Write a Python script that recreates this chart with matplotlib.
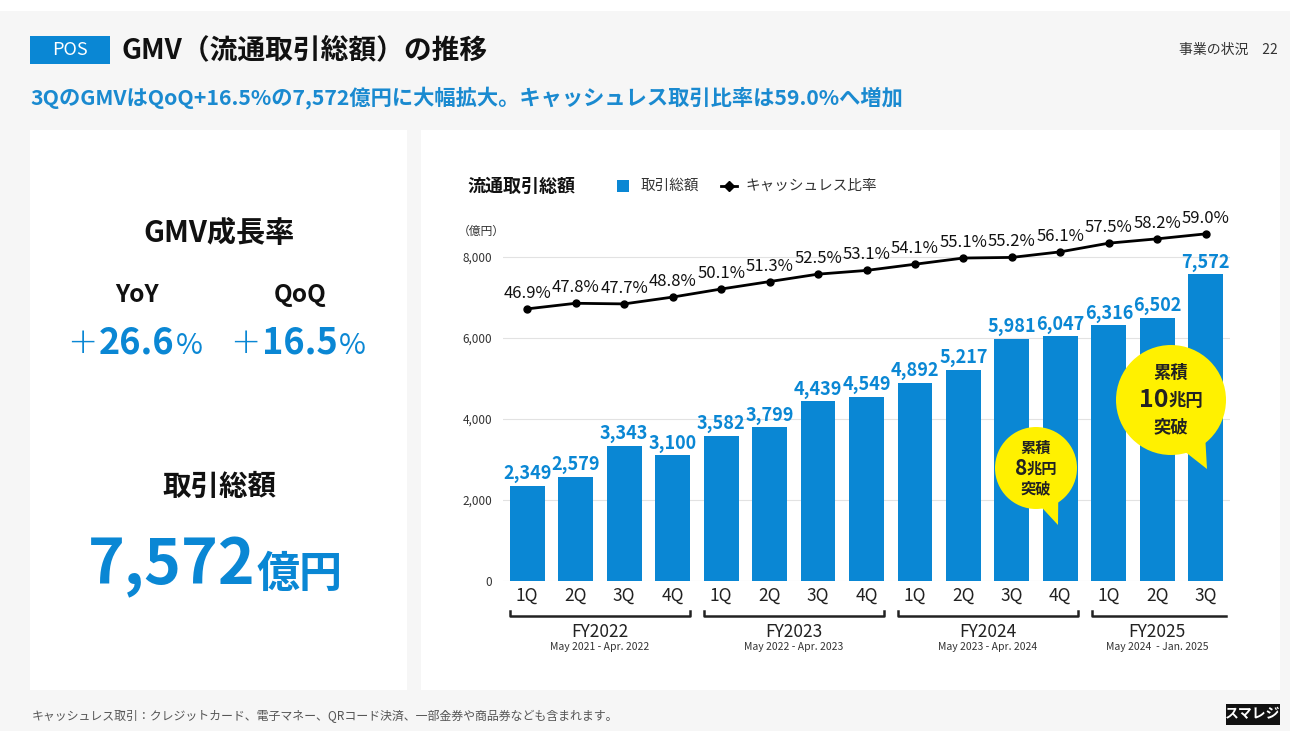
import matplotlib
matplotlib.use("Agg")
import matplotlib.pyplot as plt
from matplotlib.patches import Rectangle, Circle, Polygon
from matplotlib.transforms import Affine2D
import numpy as np

plt.rcParams['font.family'] = ['Noto Sans CJK JP', 'DejaVu Sans']

quarters = ['1Q', '2Q', '3Q', '4Q', '1Q', '2Q', '3Q', '4Q', '1Q', '2Q', '3Q', '4Q', '1Q', '2Q', '3Q']
gmv = [2349, 2579, 3343, 3100, 3582, 3799, 4439, 4549, 4892, 5217, 5981, 6047, 6316, 6502, 7572]
cashless = [46.9, 47.8, 47.7, 48.8, 50.1, 51.3, 52.5, 53.1, 54.1, 55.1, 55.2, 56.1, 57.5, 58.2, 59.0]
fiscal_years = ['FY2022', 'FY2023', 'FY2024', 'FY2025']
fy_periods = ['May 2021 - Apr. 2022', 'May 2022 - Apr. 2023', 'May 2023 - Apr. 2024', 'May 2024  - Jan. 2025']
fy_first_bar = [0, 4, 8, 12]
fy_last_bar = [3, 7, 11, 14]
yoy, qoq = 26.6, 16.5

BLUE = '#0a87d4'
YELLOW = '#fff100'
W, H = 1290, 731

fig = plt.figure(figsize=(W / 100, H / 100), dpi=100)
fig.patch.set_facecolor('#f6f6f6')
# pixel coordinates measured from the top-left corner
px = Affine2D().scale(1 / W, -1 / H).translate(0, 1) + fig.transFigure
renderer = fig.canvas.get_renderer()


def t(x, y, s, **kw):
    return fig.text(x / W, 1 - y / H, s, **kw)


def width_px(txt):
    return txt.get_window_extent(renderer).width


def rect(x, y, w, h, color, z=-1):
    fig.patches.append(Rectangle((x, y), w, h, transform=px, fc=color, ec='none', zorder=z))


# page frame
rect(0, 0, W, 11, 'white')
rect(30, 130, 377, 560, 'white')
rect(421, 130, 859, 560, 'white')

# header
rect(30, 36, 80, 28, BLUE, z=1)
t(70, 50, 'POS', color='white', fontsize=13, ha='center', va='center')
t(121, 50, 'GMV（流通取引総額）の推移', fontsize=20, fontweight='bold', va='center', color='#111111')
t(1278, 50, '事業の状況　22', fontsize=10, ha='right', va='center', color='#333333')
t(30, 98, f'3QのGMVはQoQ+{qoq}%の{gmv[-1]:,}億円に大幅拡大。キャッシュレス取引比率は{cashless[-1]}%へ増加',
  fontsize=15.3, fontweight='bold', va='center', color='#1a8ad0')

# left panel: growth rates and total
t(219, 233, 'GMV成長率', fontsize=21, fontweight='bold', ha='center', va='center', color='#111111')
t(137, 295, 'YoY', fontsize=17.5, fontweight='bold', ha='center', va='center', color='#111111')
t(300, 295, 'QoQ', fontsize=17.5, fontweight='bold', ha='center', va='center', color='#111111')

for cx, v in [(137, yoy), (300, qoq)]:
    num = t(cx, 343, f'{v}', fontsize=26, fontweight='bold', ha='center', va='center', color=BLUE)
    bb = num.get_window_extent(renderer)
    fig.text((bb.x0 - 2) / fig.bbox.width, 1 - 343 / H, '+', fontsize=26, fontweight='light',
             ha='right', va='center', color=BLUE, family=['DejaVu Sans'])
    fig.text((bb.x1 + 1) / fig.bbox.width, 1 - 346 / H, '%', fontsize=21, fontweight='normal',
             ha='left', va='center', color=BLUE)

t(219, 487, '取引総額', fontsize=20.5, fontweight='bold', ha='center', va='center', color='#111111')
t(256, 567, f'{gmv[-1]:,}', fontsize=45, fontweight='bold', ha='right', va='center', color=BLUE)
t(257, 574, '億円', fontsize=31, fontweight='bold', ha='left', va='center', color=BLUE)

# chart header and legend
t(467, 186, '流通取引総額', fontsize=13, fontweight='bold', va='center', color='#111111')
rect(617, 180, 12, 12, BLUE, z=1)
t(641, 186, '取引総額', fontsize=10.5, va='center', color='#333333')
fig.lines.append(plt.Line2D([721, 729, 737], [186, 186, 186], transform=px, color='black', lw=2,
                            marker='D', markersize=5, markevery=[1]))
t(745, 186, 'キャッシュレス比率', fontsize=10.5, va='center', color='#333333')
t(458, 231, '（億円）', fontsize=8.5, va='center', color='#333333')

# bar chart
ax = fig.add_axes([503 / W, 1 - 581 / H, 727 / W, 364.5 / H])
x = np.arange(len(gmv))
ax.bar(x, gmv, width=0.72, color=BLUE, zorder=2)
for xi, v in zip(x, gmv):
    ax.text(xi, v + 60, f'{v:,}', ha='center', va='bottom', fontsize=13,
            fontweight='bold', color=BLUE, zorder=4)
ax.set_xlim(-0.5, len(gmv) - 0.5)
ax.set_ylim(0, 9000)
ax.set_yticks([0, 2000, 4000, 6000, 8000])
ax.set_yticklabels([f'{v:,}' for v in [0, 2000, 4000, 6000, 8000]], fontsize=8.5, color='#333333')
ax.grid(axis='y', color='#e2e2e2', lw=0.8, zorder=0)
ax.set_xticks(x)
ax.set_xticklabels(quarters, fontsize=12.5, color='#222222')
ax.tick_params(length=0, pad=4)
ax.tick_params(axis='y', pad=8)
for s in ax.spines.values():
    s.set_visible(False)
ax.patch.set_alpha(0)

# cashless ratio line on a secondary scale
ax2 = ax.twinx()
ax2.set_ylim(3.0, 61.8)
ax2.plot(x, cashless, color='black', lw=2, marker='o', markersize=5, zorder=5)
for xi, v in zip(x, cashless):
    ax2.annotate(f'{v}%', (xi, v), xytext=(0, 5), textcoords='offset points',
                 ha='center', va='bottom', fontsize=12, color='#111111')
ax2.set_yticks([])
for s in ax2.spines.values():
    s.set_visible(False)

# fiscal year brackets beneath the quarter labels
btr = ax.get_xaxis_transform()
for i, (fy, per, a, b) in enumerate(zip(fiscal_years, fy_periods, fy_first_bar, fy_last_bar)):
    x0, x1 = a - 0.35, b + 0.36
    yb = -0.095
    if i == len(fiscal_years) - 1:
        xs, ys = [x0, x0, x1 + 0.05], [yb + 0.012, yb, yb]
    else:
        xs, ys = [x0, x0, x1, x1], [yb + 0.012, yb, yb, yb + 0.012]
    ax.plot(xs, ys, transform=btr, color='#222222', lw=1.8, clip_on=False)
    mid = (a + b) / 2
    ax.text(mid, -0.14, fy, transform=btr, ha='center', va='center', fontsize=12.5, color='#222222')
    ax.text(mid, -0.182, per, transform=btr, ha='center', va='center', fontsize=7.5, color='#333333')


# speech bubbles
def bubble(cx, cy, r, tip, amount, fs, big):
    ang = np.arctan2(tip[1] - cy, tip[0] - cx)
    base = [(cx + r * 0.9 * np.cos(ang + d), cy + r * 0.9 * np.sin(ang + d)) for d in (-0.28, 0.28)]
    fig.patches.append(Polygon([base[0], tip, base[1]], closed=True, transform=px,
                               fc=YELLOW, ec='none', zorder=6))
    fig.patches.append(Circle((cx, cy), r, transform=px, fc=YELLOW, ec='none', zorder=6))
    gap = r * 0.5
    kw = dict(fontweight='bold', color='#222222', zorder=7, va='center')
    t(cx, cy - gap, '累積', fontsize=fs, ha='center', **kw)
    t(cx, cy + gap, '突破', fontsize=fs, ha='center', **kw)
    n = t(cx, cy, amount, fontsize=big, ha='left', **kw)
    u = t(cx, cy + 1, '兆円', fontsize=fs, ha='left', **kw)
    wn, wu = width_px(n), width_px(u)
    left = cx - (wn + wu) / 2
    n.set_x(left / W)
    u.set_x((left + wn) / W)


bubble(1036, 468, 41, (1058, 525), '8', 11, 15)
bubble(1171, 400, 55, (1207, 469), '10', 12.5, 18)

# footer
t(32, 716, 'キャッシュレス取引：クレジットカード、電子マネー、QRコード決済、一部金券や商品券なども含まれます。',
  fontsize=8.6, va='center', color='#555555')
rect(1226, 704, 54, 21, '#111111', z=1)
t(1253, 714.5, 'スマレジ', fontsize=10, fontweight='bold', ha='center', va='center', color='white')

fig.savefig('out.png', dpi=100, facecolor=fig.get_facecolor())
